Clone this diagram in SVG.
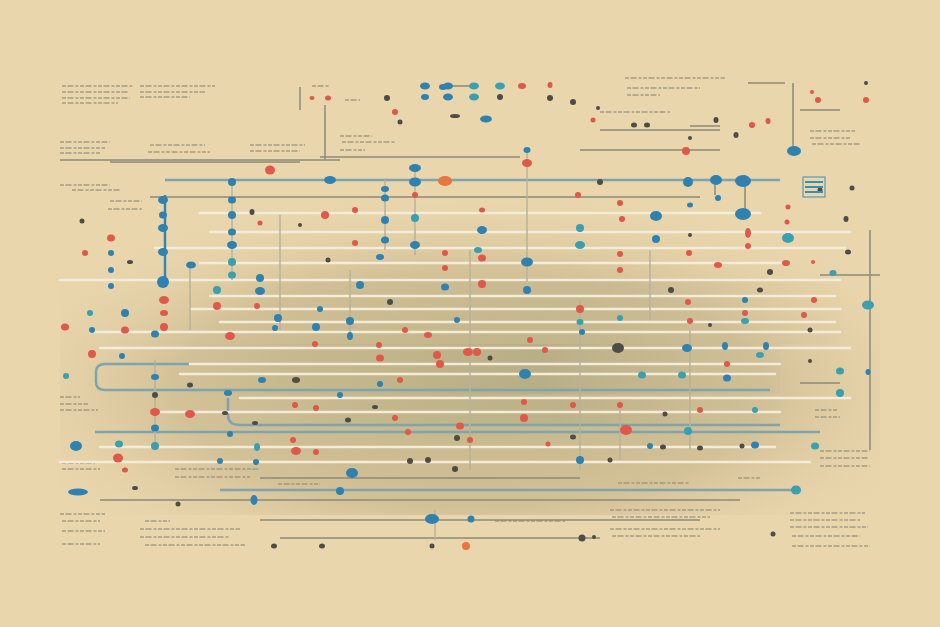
<svg xmlns="http://www.w3.org/2000/svg" width="940" height="627" viewBox="0 0 940 627">
<defs>
<radialGradient id="pan" cx="0.5" cy="0.62" r="0.6">
<stop offset="0" stop-color="#c2b487"/>
<stop offset="0.6" stop-color="#d3c198"/>
<stop offset="1" stop-color="#e6d2a9" stop-opacity="0"/>
</radialGradient>
<linearGradient id="band" x1="0" y1="0" x2="1" y2="0">
<stop offset="0" stop-color="#c9bb90" stop-opacity="0"/>
<stop offset="0.15" stop-color="#c3b78c" stop-opacity="0.5"/>
<stop offset="0.6" stop-color="#b6ad86" stop-opacity="0.85"/>
<stop offset="1" stop-color="#c9bb90" stop-opacity="0.2"/>
</linearGradient>
<style>
.wl{stroke:#f4ecd9;stroke-width:2.5;fill:none;stroke-linecap:round}
.gl{stroke:#8d8a78;stroke-width:1.5;fill:none}
.bl{stroke:#7ea5ae;stroke-width:2.5;fill:none}
.vl{stroke:#b9b29a;stroke-width:1.5;fill:none}
.vb{stroke:#3586ad;stroke-width:2.5;fill:none}
.bd{fill:#2f82b0}
.td{fill:#3a9fae}
.rd{fill:#e0584a}
.od{fill:#e9753f}
.dd{fill:#4e4c46}
.tx{stroke:#9b937f;stroke-width:1.3;stroke-dasharray:4 1.5 6 2 3 1.5;opacity:0.85}
</style>
</defs>
<rect width="940" height="627" fill="#ead6ad"/>
<rect x="60" y="185" width="820" height="330" fill="url(#pan)"/>
<rect x="180" y="344" width="600" height="50" fill="url(#band)"/>
<rect x="230" y="398" width="550" height="28" fill="url(#band)" opacity="0.7"/>
<rect x="210" y="280" width="630" height="64" fill="url(#band)" opacity="0.45"/>

<g id="pseudo-text">
<line class="tx" x1="62" y1="86" x2="132" y2="86"/>
<line class="tx" x1="62" y1="92" x2="128" y2="92"/>
<line class="tx" x1="62" y1="98" x2="130" y2="98"/>
<line class="tx" x1="62" y1="103" x2="118" y2="103"/>
<line class="tx" x1="140" y1="86" x2="215" y2="86"/>
<line class="tx" x1="140" y1="92" x2="205" y2="92"/>
<line class="tx" x1="140" y1="97" x2="190" y2="97"/>
<line class="tx" x1="60" y1="142" x2="110" y2="142"/>
<line class="tx" x1="60" y1="148" x2="105" y2="148"/>
<line class="tx" x1="60" y1="153" x2="100" y2="153"/>
<line class="tx" x1="150" y1="145" x2="205" y2="145"/>
<line class="tx" x1="148" y1="152" x2="210" y2="152"/>
<line class="tx" x1="250" y1="145" x2="305" y2="145"/>
<line class="tx" x1="250" y1="151" x2="300" y2="151"/>
<line class="tx" x1="60" y1="185" x2="110" y2="185"/>
<line class="tx" x1="72" y1="190" x2="120" y2="190"/>
<line class="tx" x1="110" y1="201" x2="142" y2="201"/>
<line class="tx" x1="108" y1="209" x2="142" y2="209"/>
<line class="tx" x1="340" y1="136" x2="372" y2="136"/>
<line class="tx" x1="342" y1="142" x2="395" y2="142"/>
<line class="tx" x1="340" y1="150" x2="365" y2="150"/>
<line class="tx" x1="345" y1="100" x2="360" y2="100"/>
<line class="tx" x1="312" y1="86" x2="330" y2="86"/>
<line class="tx" x1="625" y1="78" x2="725" y2="78"/>
<line class="tx" x1="627" y1="88" x2="700" y2="88"/>
<line class="tx" x1="627" y1="95" x2="660" y2="95"/>
<line class="tx" x1="600" y1="112" x2="670" y2="112"/>
<line class="tx" x1="810" y1="131" x2="855" y2="131"/>
<line class="tx" x1="810" y1="138" x2="850" y2="138"/>
<line class="tx" x1="812" y1="144" x2="860" y2="144"/>
<line class="tx" x1="60" y1="397" x2="80" y2="397"/>
<line class="tx" x1="60" y1="404" x2="88" y2="404"/>
<line class="tx" x1="60" y1="410" x2="98" y2="410"/>
<line class="tx" x1="62" y1="463" x2="95" y2="463"/>
<line class="tx" x1="62" y1="469" x2="100" y2="469"/>
<line class="tx" x1="60" y1="514" x2="105" y2="514"/>
<line class="tx" x1="62" y1="521" x2="100" y2="521"/>
<line class="tx" x1="62" y1="531" x2="105" y2="531"/>
<line class="tx" x1="62" y1="544" x2="100" y2="544"/>
<line class="tx" x1="145" y1="521" x2="170" y2="521"/>
<line class="tx" x1="140" y1="529" x2="240" y2="529"/>
<line class="tx" x1="140" y1="537" x2="230" y2="537"/>
<line class="tx" x1="145" y1="545" x2="245" y2="545"/>
<line class="tx" x1="175" y1="469" x2="260" y2="469"/>
<line class="tx" x1="175" y1="477" x2="250" y2="477"/>
<line class="tx" x1="278" y1="484" x2="320" y2="484"/>
<line class="tx" x1="495" y1="521" x2="565" y2="521"/>
<line class="tx" x1="610" y1="510" x2="720" y2="510"/>
<line class="tx" x1="612" y1="517" x2="710" y2="517"/>
<line class="tx" x1="610" y1="529" x2="720" y2="529"/>
<line class="tx" x1="612" y1="536" x2="700" y2="536"/>
<line class="tx" x1="790" y1="513" x2="865" y2="513"/>
<line class="tx" x1="790" y1="520" x2="860" y2="520"/>
<line class="tx" x1="790" y1="527" x2="868" y2="527"/>
<line class="tx" x1="792" y1="536" x2="860" y2="536"/>
<line class="tx" x1="792" y1="546" x2="870" y2="546"/>
<line class="tx" x1="820" y1="451" x2="870" y2="451"/>
<line class="tx" x1="820" y1="458" x2="868" y2="458"/>
<line class="tx" x1="820" y1="466" x2="870" y2="466"/>
<line class="tx" x1="815" y1="410" x2="838" y2="410"/>
<line class="tx" x1="815" y1="417" x2="840" y2="417"/>
<line class="tx" x1="738" y1="478" x2="760" y2="478"/>
<line class="tx" x1="618" y1="483" x2="690" y2="483"/>
<line class="tx" x1="760" y1="180" x2="780" y2="180"/>
</g>

<g id="connectors">
<line class="gl" x1="300" y1="87" x2="300" y2="110"/>
<line class="gl" x1="325" y1="105" x2="325" y2="160"/>
<line class="gl" x1="748" y1="83" x2="785" y2="83"/>
<line class="gl" x1="793" y1="83" x2="793" y2="150"/>
<line class="gl" x1="440" y1="86" x2="470" y2="86"/>
<line class="gl" x1="110" y1="162" x2="300" y2="162"/>
<line class="gl" x1="60" y1="160" x2="340" y2="160"/>
<line class="gl" x1="320" y1="157" x2="520" y2="157"/>
<line class="gl" x1="580" y1="150" x2="720" y2="150"/>
<line class="gl" x1="600" y1="130" x2="720" y2="130"/>
<line class="gl" x1="690" y1="126" x2="720" y2="126"/>
<line class="gl" x1="800" y1="110" x2="840" y2="110"/>
<line class="bl" x1="165" y1="180" x2="780" y2="180"/>
<line class="gl" x1="150" y1="197" x2="700" y2="197"/>
<line class="wl" x1="200" y1="213" x2="760" y2="213"/>
<line class="wl" x1="210" y1="232" x2="850" y2="232"/>
<line class="wl" x1="155" y1="248" x2="845" y2="248"/>
<line class="wl" x1="200" y1="263" x2="790" y2="263"/>
<line class="wl" x1="60" y1="280" x2="840" y2="280"/>
<line class="wl" x1="210" y1="296" x2="835" y2="296"/>
<line class="wl" x1="190" y1="309" x2="840" y2="309"/>
<line class="wl" x1="220" y1="322" x2="835" y2="322"/>
<line class="wl" x1="90" y1="332" x2="840" y2="332"/>
<line class="wl" x1="100" y1="348" x2="850" y2="348"/>
<path class="bl" d="M190 364 H105 Q96 364 96 372 V382 Q96 390 105 390 H770"/>
<line class="wl" x1="190" y1="364" x2="780" y2="364"/>
<line class="wl" x1="180" y1="374" x2="775" y2="374"/>
<path class="wl" d="M240 398 H850"/>
<path class="bl" d="M228 398 V415 Q228 425 240 425 H780"/>
<line class="wl" x1="160" y1="412" x2="780" y2="412"/>
<line class="bl" x1="95" y1="432" x2="820" y2="432"/>
<line class="wl" x1="100" y1="447" x2="775" y2="447"/>
<line class="wl" x1="60" y1="462" x2="810" y2="462"/>
<line class="gl" x1="260" y1="478" x2="580" y2="478"/>
<line class="bl" x1="220" y1="490" x2="800" y2="490"/>
<line class="gl" x1="100" y1="500" x2="740" y2="500"/>
<line class="gl" x1="260" y1="520" x2="700" y2="520"/>
<line class="gl" x1="280" y1="538" x2="600" y2="538"/>
<line class="gl" x1="820" y1="275" x2="880" y2="275"/>
<line class="gl" x1="800" y1="383" x2="840" y2="383"/>
<line class="vb" x1="165" y1="195" x2="165" y2="285"/>
<line class="vl" x1="190" y1="265" x2="190" y2="330"/>
<line class="vl" x1="232" y1="180" x2="232" y2="280"/>
<line class="vl" x1="385" y1="180" x2="385" y2="250"/>
<line class="vl" x1="415" y1="165" x2="415" y2="255"/>
<line class="vl" x1="527" y1="150" x2="527" y2="282"/>
<line class="gl" x1="745" y1="175" x2="745" y2="215"/>
<line class="gl" x1="715" y1="180" x2="715" y2="195"/>
<line class="gl" x1="870" y1="230" x2="870" y2="450"/>
<line class="vl" x1="280" y1="215" x2="280" y2="330"/>
<line class="vl" x1="350" y1="270" x2="350" y2="340"/>
<line class="vl" x1="470" y1="250" x2="470" y2="470"/>
<line class="vl" x1="580" y1="300" x2="580" y2="470"/>
<line class="vl" x1="650" y1="250" x2="650" y2="320"/>
<line class="vl" x1="690" y1="330" x2="690" y2="450"/>
<line class="vl" x1="620" y1="400" x2="620" y2="460"/>
<line class="vl" x1="155" y1="360" x2="155" y2="445"/>
<line class="vl" x1="435" y1="510" x2="435" y2="540"/>
</g>

<g id="dots">
<ellipse class="bd" cx="425" cy="86" rx="5" ry="3.5"/>
<ellipse class="bd" cx="448" cy="86" rx="5" ry="3.5"/>
<ellipse class="td" cx="474" cy="86" rx="5" ry="3.5"/>
<ellipse class="td" cx="500" cy="86" rx="5" ry="3.5"/>
<ellipse class="rd" cx="522" cy="86" rx="4" ry="3"/>
<ellipse class="bd" cx="425" cy="97" rx="4" ry="3"/>
<ellipse class="bd" cx="448" cy="97" rx="5" ry="3.5"/>
<ellipse class="td" cx="474" cy="97" rx="5" ry="3.5"/>
<ellipse class="dd" cx="500" cy="97" rx="3" ry="3"/>
<ellipse class="bd" cx="443" cy="87" rx="4" ry="3"/>
<ellipse class="dd" cx="550" cy="98" rx="3" ry="3"/>
<ellipse class="dd" cx="573" cy="102" rx="3" ry="3"/>
<ellipse class="rd" cx="550" cy="85" rx="2.5" ry="3"/>
<ellipse class="rd" cx="328" cy="98" rx="3" ry="2.5"/>
<ellipse class="rd" cx="312" cy="98" rx="2.5" ry="2"/>
<ellipse class="dd" cx="387" cy="98" rx="3" ry="3"/>
<ellipse class="rd" cx="395" cy="112" rx="3" ry="3"/>
<ellipse class="dd" cx="400" cy="122" rx="2.5" ry="2.5"/>
<ellipse class="dd" cx="455" cy="116" rx="5" ry="2"/>
<ellipse class="bd" cx="486" cy="119" rx="6" ry="3.5"/>
<ellipse class="rd" cx="527" cy="163" rx="5" ry="4"/>
<ellipse class="bd" cx="527" cy="150" rx="3.5" ry="3"/>
<ellipse class="rd" cx="270" cy="170" rx="5" ry="4.5"/>
<ellipse class="bd" cx="330" cy="180" rx="6" ry="4"/>
<ellipse class="bd" cx="415" cy="168" rx="6" ry="4"/>
<ellipse class="bd" cx="415" cy="182" rx="6" ry="4.5"/>
<ellipse class="od" cx="445" cy="181" rx="7" ry="5"/>
<ellipse class="bd" cx="385" cy="189" rx="4" ry="3"/>
<ellipse class="bd" cx="385" cy="198" rx="4" ry="3.5"/>
<ellipse class="rd" cx="415" cy="195" rx="3" ry="3"/>
<ellipse class="dd" cx="600" cy="182" rx="3" ry="3"/>
<ellipse class="bd" cx="232" cy="182" rx="4" ry="4"/>
<ellipse class="bd" cx="232" cy="200" rx="4" ry="3.5"/>
<ellipse class="bd" cx="232" cy="215" rx="4" ry="4"/>
<ellipse class="bd" cx="232" cy="232" rx="4" ry="3.5"/>
<ellipse class="bd" cx="232" cy="245" rx="5" ry="4"/>
<ellipse class="td" cx="232" cy="262" rx="4" ry="4"/>
<ellipse class="td" cx="232" cy="275" rx="4" ry="3.5"/>
<ellipse class="bd" cx="163" cy="200" rx="5" ry="4"/>
<ellipse class="bd" cx="163" cy="215" rx="4" ry="3.5"/>
<ellipse class="bd" cx="163" cy="228" rx="5" ry="4"/>
<ellipse class="bd" cx="163" cy="252" rx="5" ry="4"/>
<ellipse class="bd" cx="163" cy="282" rx="6" ry="6"/>
<ellipse class="bd" cx="191" cy="265" rx="5" ry="3.5"/>
<ellipse class="rd" cx="111" cy="238" rx="4" ry="3.5"/>
<ellipse class="bd" cx="111" cy="253" rx="3" ry="3"/>
<ellipse class="bd" cx="111" cy="270" rx="3" ry="3"/>
<ellipse class="bd" cx="111" cy="286" rx="3" ry="3"/>
<ellipse class="rd" cx="85" cy="253" rx="3" ry="3"/>
<ellipse class="dd" cx="82" cy="221" rx="2.5" ry="2.5"/>
<ellipse class="dd" cx="130" cy="262" rx="3" ry="2"/>
<ellipse class="dd" cx="252" cy="212" rx="2.5" ry="3"/>
<ellipse class="rd" cx="260" cy="223" rx="2.5" ry="2.5"/>
<ellipse class="rd" cx="164" cy="300" rx="5" ry="4"/>
<ellipse class="rd" cx="164" cy="313" rx="4" ry="3"/>
<ellipse class="rd" cx="164" cy="327" rx="4" ry="4"/>
<ellipse class="bd" cx="125" cy="313" rx="4" ry="4"/>
<ellipse class="rd" cx="125" cy="330" rx="4" ry="3.5"/>
<ellipse class="bd" cx="92" cy="330" rx="3" ry="3"/>
<ellipse class="rd" cx="65" cy="327" rx="4" ry="3.5"/>
<ellipse class="td" cx="90" cy="313" rx="3" ry="3"/>
<ellipse class="rd" cx="92" cy="354" rx="4" ry="4"/>
<ellipse class="td" cx="66" cy="376" rx="3" ry="3"/>
<ellipse class="bd" cx="122" cy="356" rx="3" ry="3"/>
<ellipse class="bd" cx="155" cy="334" rx="4" ry="3.5"/>
<ellipse class="bd" cx="155" cy="377" rx="4" ry="3"/>
<ellipse class="dd" cx="155" cy="395" rx="3" ry="3"/>
<ellipse class="rd" cx="155" cy="412" rx="5" ry="4"/>
<ellipse class="bd" cx="155" cy="428" rx="4" ry="3.5"/>
<ellipse class="td" cx="155" cy="446" rx="4" ry="4"/>
<ellipse class="rd" cx="190" cy="414" rx="5" ry="4"/>
<ellipse class="dd" cx="190" cy="385" rx="3" ry="2.5"/>
<ellipse class="bd" cx="76" cy="446" rx="6" ry="5"/>
<ellipse class="td" cx="119" cy="444" rx="4" ry="3.5"/>
<ellipse class="rd" cx="118" cy="458" rx="5" ry="4.5"/>
<ellipse class="rd" cx="125" cy="470" rx="3" ry="2.5"/>
<ellipse class="bd" cx="78" cy="492" rx="10" ry="3.5"/>
<ellipse class="dd" cx="135" cy="488" rx="3" ry="2"/>
<ellipse class="dd" cx="178" cy="504" rx="2.5" ry="2.5"/>
<ellipse class="bd" cx="254" cy="500" rx="3.5" ry="5"/>
<ellipse class="bd" cx="340" cy="491" rx="4" ry="4"/>
<ellipse class="bd" cx="352" cy="473" rx="6" ry="5"/>
<ellipse class="dd" cx="455" cy="469" rx="3" ry="3"/>
<ellipse class="bd" cx="432" cy="519" rx="7" ry="5"/>
<ellipse class="bd" cx="471" cy="519" rx="3.5" ry="3.5"/>
<ellipse class="od" cx="466" cy="546" rx="4" ry="4"/>
<ellipse class="dd" cx="432" cy="546" rx="2.5" ry="2.5"/>
<ellipse class="dd" cx="274" cy="546" rx="3" ry="2.5"/>
<ellipse class="dd" cx="322" cy="546" rx="3" ry="2.5"/>
<ellipse class="dd" cx="582" cy="538" rx="3.5" ry="3.5"/>
<ellipse class="dd" cx="594" cy="537" rx="2" ry="2"/>
<ellipse class="dd" cx="773" cy="534" rx="2.5" ry="2.5"/>
<ellipse class="td" cx="796" cy="490" rx="5" ry="4.5"/>
<ellipse class="bd" cx="650" cy="446" rx="3" ry="3"/>
<ellipse class="bd" cx="755" cy="445" rx="4" ry="3.5"/>
<ellipse class="td" cx="815" cy="446" rx="4" ry="3.5"/>
<ellipse class="rd" cx="626" cy="430" rx="6" ry="5"/>
<ellipse class="td" cx="688" cy="431" rx="4" ry="4"/>
<ellipse class="dd" cx="663" cy="447" rx="3" ry="2.5"/>
<ellipse class="dd" cx="700" cy="448" rx="3" ry="2.5"/>
<ellipse class="dd" cx="742" cy="446" rx="2.5" ry="2.5"/>
<ellipse class="td" cx="840" cy="393" rx="4" ry="4"/>
<ellipse class="td" cx="840" cy="371" rx="4" ry="3.5"/>
<ellipse class="dd" cx="810" cy="361" rx="2" ry="2"/>
<ellipse class="td" cx="868" cy="305" rx="6" ry="4.5"/>
<ellipse class="bd" cx="868" cy="372" rx="2.5" ry="3"/>
<ellipse class="td" cx="833" cy="273" rx="3.5" ry="3"/>
<ellipse class="rd" cx="813" cy="262" rx="2" ry="2"/>
<ellipse class="rd" cx="814" cy="300" rx="3" ry="3"/>
<ellipse class="dd" cx="760" cy="290" rx="3" ry="2.5"/>
<ellipse class="rd" cx="786" cy="263" rx="4" ry="3"/>
<ellipse class="dd" cx="848" cy="252" rx="3" ry="2.5"/>
<ellipse class="dd" cx="846" cy="219" rx="2.5" ry="3"/>
<ellipse class="rd" cx="788" cy="207" rx="2.5" ry="2.5"/>
<ellipse class="rd" cx="787" cy="222" rx="2.5" ry="2.5"/>
<ellipse class="td" cx="788" cy="238" rx="6" ry="5"/>
<ellipse class="rd" cx="748" cy="233" rx="3" ry="5"/>
<ellipse class="rd" cx="748" cy="246" rx="3" ry="3"/>
<ellipse class="bd" cx="743" cy="181" rx="8" ry="6"/>
<ellipse class="bd" cx="743" cy="214" rx="8" ry="6"/>
<ellipse class="bd" cx="716" cy="180" rx="6" ry="5"/>
<ellipse class="bd" cx="718" cy="198" rx="3" ry="3"/>
<ellipse class="bd" cx="688" cy="182" rx="5" ry="5"/>
<ellipse class="rd" cx="686" cy="151" rx="4" ry="4"/>
<ellipse class="bd" cx="794" cy="151" rx="7" ry="5"/>
<ellipse class="dd" cx="736" cy="135" rx="2.5" ry="3"/>
<ellipse class="dd" cx="716" cy="120" rx="2.5" ry="3"/>
<ellipse class="rd" cx="752" cy="125" rx="3" ry="3"/>
<ellipse class="rd" cx="768" cy="121" rx="2.5" ry="3"/>
<ellipse class="rd" cx="812" cy="92" rx="2" ry="2"/>
<ellipse class="rd" cx="818" cy="100" rx="3" ry="3"/>
<ellipse class="rd" cx="866" cy="100" rx="3" ry="3"/>
<ellipse class="dd" cx="866" cy="83" rx="2" ry="2"/>
<ellipse class="dd" cx="647" cy="125" rx="3" ry="2.5"/>
<ellipse class="dd" cx="634" cy="125" rx="3" ry="2.5"/>
<ellipse class="dd" cx="598" cy="108" rx="2" ry="2"/>
<ellipse class="rd" cx="593" cy="120" rx="2.5" ry="2.5"/>
<ellipse class="dd" cx="690" cy="138" rx="2" ry="2"/>
<ellipse class="dd" cx="852" cy="188" rx="2.5" ry="2.5"/>
<ellipse class="dd" cx="820" cy="190" rx="2.5" ry="2.5"/>
<ellipse class="bd" cx="656" cy="216" rx="6" ry="5"/>
<ellipse class="bd" cx="656" cy="239" rx="4" ry="4"/>
<ellipse class="rd" cx="622" cy="219" rx="3" ry="3"/>
<ellipse class="rd" cx="620" cy="203" rx="3" ry="3"/>
<ellipse class="bd" cx="690" cy="205" rx="3" ry="2.5"/>
<ellipse class="rd" cx="689" cy="253" rx="3" ry="3"/>
<ellipse class="dd" cx="690" cy="235" rx="2" ry="2"/>
<ellipse class="rd" cx="620" cy="270" rx="3" ry="3"/>
<ellipse class="rd" cx="718" cy="265" rx="4" ry="3"/>
<ellipse class="dd" cx="770" cy="272" rx="3" ry="3"/>
<ellipse class="rd" cx="688" cy="302" rx="3" ry="3"/>
<ellipse class="dd" cx="671" cy="290" rx="3" ry="3"/>
<ellipse class="bd" cx="745" cy="300" rx="3" ry="3"/>
<ellipse class="td" cx="745" cy="321" rx="4" ry="3"/>
<ellipse class="rd" cx="745" cy="313" rx="3" ry="3"/>
<ellipse class="rd" cx="690" cy="321" rx="3" ry="3"/>
<ellipse class="dd" cx="710" cy="325" rx="2" ry="2"/>
<ellipse class="td" cx="620" cy="318" rx="3" ry="3"/>
<ellipse class="rd" cx="580" cy="309" rx="4" ry="4"/>
<ellipse class="td" cx="580" cy="322" rx="3.5" ry="3"/>
<ellipse class="rd" cx="620" cy="254" rx="3" ry="3"/>
<ellipse class="td" cx="580" cy="228" rx="4" ry="4"/>
<ellipse class="td" cx="580" cy="245" rx="5" ry="4"/>
<ellipse class="rd" cx="578" cy="195" rx="3" ry="3"/>
<ellipse class="bd" cx="527" cy="262" rx="6" ry="4.5"/>
<ellipse class="bd" cx="527" cy="290" rx="4" ry="4"/>
<ellipse class="rd" cx="482" cy="210" rx="3" ry="2.5"/>
<ellipse class="bd" cx="482" cy="230" rx="5" ry="4"/>
<ellipse class="rd" cx="482" cy="258" rx="4" ry="3.5"/>
<ellipse class="rd" cx="482" cy="284" rx="4" ry="4"/>
<ellipse class="td" cx="478" cy="250" rx="4" ry="3"/>
<ellipse class="rd" cx="445" cy="253" rx="3" ry="3"/>
<ellipse class="rd" cx="445" cy="268" rx="3" ry="3"/>
<ellipse class="bd" cx="445" cy="287" rx="4" ry="3.5"/>
<ellipse class="td" cx="415" cy="218" rx="4" ry="4"/>
<ellipse class="bd" cx="385" cy="220" rx="4" ry="4"/>
<ellipse class="bd" cx="385" cy="240" rx="4" ry="3.5"/>
<ellipse class="bd" cx="415" cy="245" rx="5" ry="4"/>
<ellipse class="rd" cx="355" cy="210" rx="3" ry="3"/>
<ellipse class="rd" cx="325" cy="215" rx="4" ry="4"/>
<ellipse class="dd" cx="300" cy="225" rx="2" ry="2"/>
<ellipse class="rd" cx="355" cy="243" rx="3" ry="3"/>
<ellipse class="bd" cx="380" cy="257" rx="4" ry="3"/>
<ellipse class="dd" cx="328" cy="260" rx="2.5" ry="2.5"/>
<ellipse class="bd" cx="360" cy="285" rx="4" ry="4"/>
<ellipse class="bd" cx="260" cy="278" rx="4" ry="4"/>
<ellipse class="td" cx="217" cy="290" rx="4" ry="4"/>
<ellipse class="rd" cx="217" cy="306" rx="4" ry="4"/>
<ellipse class="bd" cx="260" cy="291" rx="5" ry="4"/>
<ellipse class="rd" cx="257" cy="306" rx="3" ry="3"/>
<ellipse class="bd" cx="278" cy="318" rx="4" ry="4"/>
<ellipse class="rd" cx="230" cy="336" rx="5" ry="4"/>
<ellipse class="bd" cx="275" cy="328" rx="3" ry="3"/>
<ellipse class="bd" cx="316" cy="327" rx="4" ry="4"/>
<ellipse class="bd" cx="320" cy="309" rx="3" ry="3"/>
<ellipse class="rd" cx="315" cy="344" rx="3" ry="3"/>
<ellipse class="bd" cx="350" cy="321" rx="4" ry="4"/>
<ellipse class="bd" cx="350" cy="336" rx="3" ry="4"/>
<ellipse class="dd" cx="390" cy="302" rx="3" ry="3"/>
<ellipse class="rd" cx="380" cy="358" rx="4" ry="3.5"/>
<ellipse class="rd" cx="405" cy="330" rx="3" ry="3"/>
<ellipse class="rd" cx="379" cy="345" rx="3" ry="3"/>
<ellipse class="rd" cx="428" cy="335" rx="4" ry="3"/>
<ellipse class="rd" cx="437" cy="355" rx="4" ry="4"/>
<ellipse class="bd" cx="457" cy="320" rx="3" ry="3"/>
<ellipse class="rd" cx="468" cy="352" rx="5" ry="4"/>
<ellipse class="rd" cx="477" cy="352" rx="4" ry="4"/>
<ellipse class="dd" cx="490" cy="358" rx="2.5" ry="2.5"/>
<ellipse class="rd" cx="440" cy="364" rx="4" ry="4"/>
<ellipse class="rd" cx="530" cy="340" rx="3" ry="3"/>
<ellipse class="rd" cx="545" cy="350" rx="3" ry="3"/>
<ellipse class="bd" cx="582" cy="332" rx="3" ry="3"/>
<ellipse class="dd" cx="618" cy="348" rx="6" ry="5"/>
<ellipse class="bd" cx="687" cy="348" rx="5" ry="4"/>
<ellipse class="bd" cx="725" cy="346" rx="3" ry="4"/>
<ellipse class="rd" cx="727" cy="364" rx="3" ry="3"/>
<ellipse class="bd" cx="766" cy="346" rx="3" ry="4"/>
<ellipse class="bd" cx="525" cy="374" rx="6" ry="5"/>
<ellipse class="td" cx="642" cy="375" rx="4" ry="3.5"/>
<ellipse class="td" cx="682" cy="375" rx="4" ry="3.5"/>
<ellipse class="bd" cx="727" cy="378" rx="4" ry="3.5"/>
<ellipse class="rd" cx="524" cy="402" rx="3" ry="3"/>
<ellipse class="rd" cx="573" cy="405" rx="3" ry="3"/>
<ellipse class="rd" cx="620" cy="405" rx="3" ry="3"/>
<ellipse class="rd" cx="524" cy="418" rx="4" ry="4"/>
<ellipse class="rd" cx="460" cy="426" rx="4" ry="3.5"/>
<ellipse class="dd" cx="457" cy="438" rx="3" ry="3"/>
<ellipse class="rd" cx="470" cy="440" rx="3" ry="3"/>
<ellipse class="rd" cx="548" cy="444" rx="2.5" ry="2.5"/>
<ellipse class="dd" cx="573" cy="437" rx="3" ry="2.5"/>
<ellipse class="bd" cx="580" cy="460" rx="4" ry="4"/>
<ellipse class="dd" cx="610" cy="460" rx="2.5" ry="2.5"/>
<ellipse class="rd" cx="408" cy="432" rx="3" ry="3"/>
<ellipse class="rd" cx="395" cy="418" rx="3" ry="3"/>
<ellipse class="dd" cx="375" cy="407" rx="3" ry="2"/>
<ellipse class="rd" cx="316" cy="408" rx="3" ry="3"/>
<ellipse class="rd" cx="295" cy="405" rx="3" ry="3"/>
<ellipse class="rd" cx="293" cy="440" rx="3" ry="3"/>
<ellipse class="dd" cx="296" cy="380" rx="4" ry="3"/>
<ellipse class="bd" cx="262" cy="380" rx="4" ry="3"/>
<ellipse class="dd" cx="255" cy="423" rx="3" ry="2"/>
<ellipse class="td" cx="257" cy="447" rx="3" ry="4"/>
<ellipse class="bd" cx="256" cy="462" rx="3" ry="3"/>
<ellipse class="rd" cx="296" cy="451" rx="5" ry="4"/>
<ellipse class="rd" cx="316" cy="452" rx="3" ry="3"/>
<ellipse class="bd" cx="228" cy="393" rx="4" ry="3"/>
<ellipse class="bd" cx="230" cy="434" rx="3" ry="3"/>
<ellipse class="bd" cx="220" cy="461" rx="3" ry="3"/>
<ellipse class="dd" cx="225" cy="413" rx="3" ry="2"/>
<ellipse class="bd" cx="340" cy="395" rx="3" ry="3"/>
<ellipse class="dd" cx="348" cy="420" rx="3" ry="2.5"/>
<ellipse class="rd" cx="400" cy="380" rx="3" ry="3"/>
<ellipse class="bd" cx="380" cy="384" rx="3" ry="3"/>
<ellipse class="dd" cx="410" cy="461" rx="3" ry="3"/>
<ellipse class="dd" cx="428" cy="460" rx="3" ry="3"/>
<ellipse class="td" cx="755" cy="410" rx="3" ry="3"/>
<ellipse class="rd" cx="700" cy="410" rx="3" ry="3"/>
<ellipse class="dd" cx="665" cy="414" rx="2.5" ry="2.5"/>
<ellipse class="td" cx="760" cy="355" rx="4" ry="3"/>
<ellipse class="dd" cx="810" cy="330" rx="2.5" ry="2.5"/>
<ellipse class="rd" cx="804" cy="315" rx="3" ry="3"/>
</g>

<g id="box">
<rect x="803" y="177" width="22" height="20" fill="none" stroke="#3b8fb3" stroke-width="1"/>
<line x1="805" y1="182" x2="823" y2="182" stroke="#3b8fb3" stroke-width="2"/>
<line x1="805" y1="187" x2="823" y2="187" stroke="#3b8fb3" stroke-width="2"/>
<line x1="805" y1="192" x2="823" y2="192" stroke="#3b8fb3" stroke-width="2"/>
</g>
</svg>
